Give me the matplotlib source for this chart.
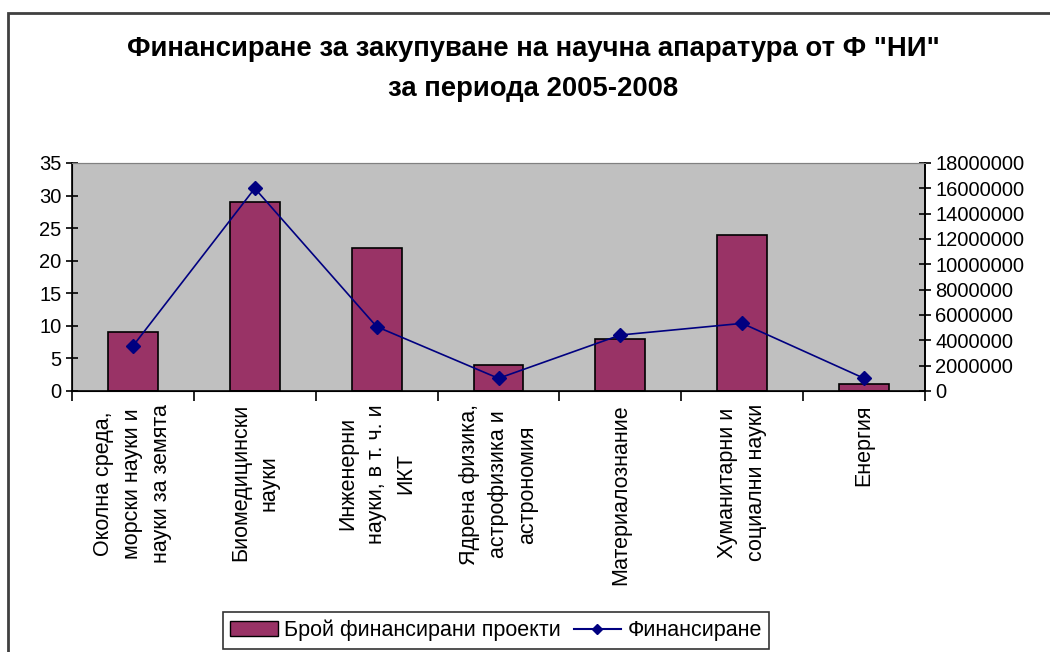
import matplotlib.pyplot as plt
from matplotlib.patches import Rectangle
from matplotlib.lines import Line2D
import numpy as np

plt.rcParams['font.family'] = ['Liberation Sans', 'DejaVu Sans']

categories = ['Околна среда,\nморски науки и\nнауки за земята',
              'Биомедицински\nнауки',
              'Инженерни\nнауки, в т. ч. и\nИКТ',
              'Ядрена физика,\nастрофизика и\nастрономия',
              'Материалознание',
              'Хуманитарни и\nсоциални науки',
              'Енергия']
projects = [9, 29, 22, 4, 8, 24, 1]
funding = [3550000, 16000000, 5080000, 1000000, 4420000, 5340000, 1000000]

fig = plt.figure(figsize=(10.5, 6.52), dpi=100)
fig.patches.append(Rectangle((8 / 1050, -0.1), 1.2, 1 - 13 / 652 + 0.1,
                             transform=fig.transFigure, fill=False,
                             edgecolor='#404040', linewidth=2))

ax = fig.add_axes([72 / 1050, 261 / 652, 853 / 1050, 228 / 652])
ax.set_facecolor('#C0C0C0')
x = np.arange(len(categories))
ax.bar(x, projects, width=0.41, color='#993366', edgecolor='black', linewidth=1.2,
       zorder=2)
ax.set_xlim(-0.5, len(categories) - 0.5)
ax.set_ylim(0, 35)
ax.set_yticks(range(0, 36, 5))
ax.tick_params(axis='y', direction='inout', length=8, width=1.2, labelsize=14.5)

ax.set_xticks(np.arange(-0.5, len(categories), 1))
ax.set_xticklabels([])
ax.tick_params(axis='x', direction='out', length=7, width=1.2)
for i, lab in enumerate(categories):
    ax.text(i, -2.0, lab, rotation=90, ha='center', va='top', ma='center',
            fontsize=15.5, linespacing=1.5)

for s in ['left', 'bottom', 'right']:
    ax.spines[s].set_linewidth(1.2)
ax.spines['top'].set_color('#808080')

ax2 = ax.twinx()
ax2.plot(x, funding, color='#000080', marker='D', markersize=7, linewidth=1.2)
ax2.set_ylim(0, 18000000)
ax2.set_yticks(range(0, 18000001, 2000000))
ax2.set_yticklabels([str(v) for v in range(0, 18000001, 2000000)])
ax2.tick_params(axis='y', direction='inout', length=8, width=1.2, labelsize=14.5)
ax2.spines['right'].set_linewidth(1.2)
ax2.spines['top'].set_color('#808080')

fig.text(533 / 1050, 1 - 69 / 652,
         'Финансиране за закупуване на научна апаратура от Ф "НИ"\nза периода 2005-2008',
         ha='center', va='center', fontsize=19.8, fontweight='bold', linespacing=1.7)

handles = [Rectangle((0, 0), 1, 1, facecolor='#993366', edgecolor='black'),
           Line2D([], [], color='#000080', marker='D', markersize=5)]
leg = fig.legend(handles, ['Брой финансирани проекти', 'Финансиране'],
                 loc='upper center', bbox_to_anchor=(496 / 1050, 1 - 612 / 652), ncol=2,
                 fontsize=15.5, frameon=True, fancybox=False, handlelength=2.2,
                 handletextpad=0.3, columnspacing=0.6, borderpad=0.35,
                 borderaxespad=0)
leg.get_frame().set_edgecolor('black')
leg.get_frame().set_linewidth(1.2)

fig.savefig('out.png', dpi=100)
